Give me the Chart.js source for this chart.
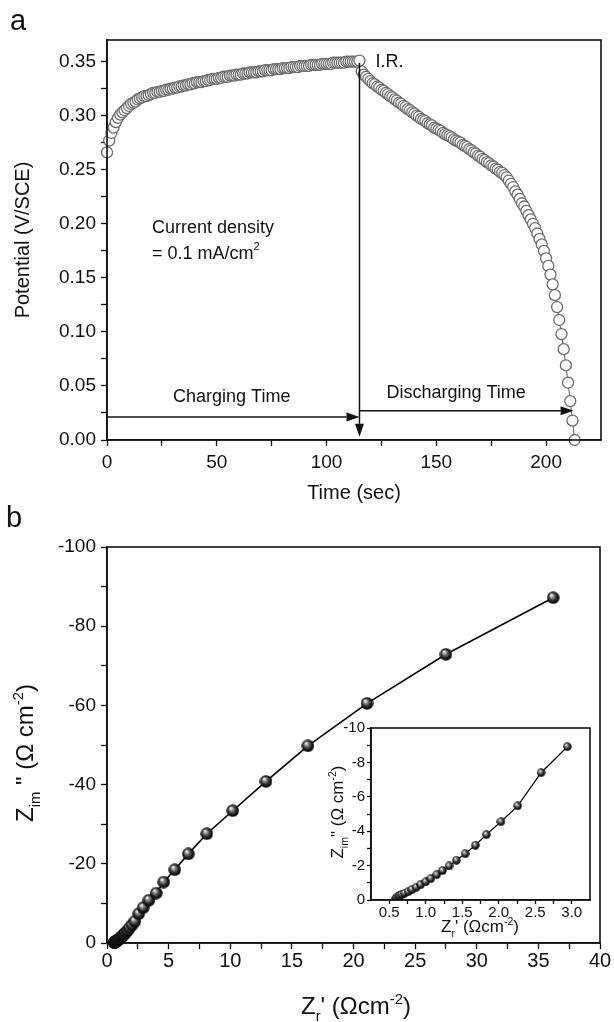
<!DOCTYPE html>
<html>
<head>
<meta charset="utf-8">
<title>Charge-discharge and impedance</title>
<script src="https://cdn.jsdelivr.net/npm/chart.js@4.4.1/dist/chart.umd.min.js"></script>
<style>
  html, body { margin: 0; padding: 0; background: #fff; }
  #page { position: relative; width: 614px; height: 1022px; overflow: hidden; }
  #page canvas { position: absolute; }
  #chartA { left: 0; top: 0; }
  #chartB { left: 0; top: 505px; }
  #chartInset { left: 300px; top: 700px; }
</style>
</head>
<body>
<div id="page">
  <canvas id="chartA" width="614" height="505"></canvas>
  <canvas id="chartB" width="614" height="517"></canvas>
  <canvas id="chartInset" width="300" height="250"></canvas>
</div>
<script>
const FONT = "'Liberation Sans', Arial, Helvetica, sans-serif";
const INK = '#111';

// ---- panel a: charge / discharge curve (time in s, potential in V/SCE) ----
const chargeTime = [
  0, 1, 2, 3, 4, 5, 6, 7, 8, 9, 10, 11, 12, 13, 14, 15, 16, 17, 18, 19,
  20, 21, 22, 23, 24, 25, 26, 27, 28, 29, 30, 31, 32, 33, 34, 35, 36, 37, 38, 39,
  40, 41, 42, 43, 44, 45, 46, 47, 48, 49, 50, 51, 52, 53, 54, 55, 56, 57, 58, 59,
  60, 61, 62, 63, 64, 65, 66, 67, 68, 69, 70, 71, 72, 73, 74, 75, 76, 77, 78, 79,
  80, 81, 82, 83, 84, 85, 86, 87, 88, 89, 90, 91, 92, 93, 94, 95, 96, 97, 98, 99,
  100, 101, 102, 103, 104, 105, 106, 107, 108, 109, 110, 111, 112, 113, 114, 115
];
const chargeV = [
  0.266, 0.277, 0.284, 0.289, 0.294, 0.298, 0.301, 0.303, 0.305, 0.307,
  0.309, 0.311, 0.312, 0.313, 0.315, 0.316, 0.317, 0.318, 0.318, 0.319,
  0.320, 0.321, 0.321, 0.322, 0.322, 0.323, 0.323, 0.324, 0.324, 0.325,
  0.325, 0.326, 0.326, 0.327, 0.327, 0.328, 0.328, 0.329, 0.329, 0.330,
  0.330, 0.331, 0.331, 0.331, 0.332, 0.332, 0.333, 0.333, 0.334, 0.334,
  0.334, 0.335, 0.335, 0.336, 0.336, 0.336, 0.337, 0.337, 0.337, 0.338,
  0.338, 0.338, 0.339, 0.339, 0.339, 0.340, 0.340, 0.340, 0.340, 0.341,
  0.341, 0.341, 0.342, 0.342, 0.342, 0.342, 0.343, 0.343, 0.343, 0.343,
  0.344, 0.344, 0.344, 0.344, 0.345, 0.345, 0.345, 0.345, 0.346, 0.346,
  0.346, 0.346, 0.346, 0.347, 0.347, 0.347, 0.347, 0.347, 0.348, 0.348,
  0.348, 0.348, 0.348, 0.349, 0.349, 0.349, 0.349, 0.349, 0.349, 0.350,
  0.350, 0.350, 0.350, 0.350, 0.350, 0.351
];
const dischargeTime = [
  116, 117, 118, 119, 120, 121, 122, 123, 124, 125, 126, 127, 128, 129, 130, 131, 132, 133, 134, 135,
  136, 137, 138, 139, 140, 141, 142, 143, 144, 145, 146, 147, 148, 149, 150, 151, 152, 153, 154, 155,
  156, 157, 158, 159, 160, 161, 162, 163, 164, 165, 166, 167, 168, 169, 170, 171, 172, 173, 174, 175,
  176, 177, 178, 179, 180, 181, 182, 183, 184, 185, 186, 187, 188, 189, 190, 191, 192, 193, 194, 195,
  196, 197, 198, 199, 200, 201, 202, 203, 204, 205, 206, 207, 208, 209, 210, 211, 212, 213
];
const dischargeV = [
  0.341, 0.338, 0.336, 0.334, 0.332, 0.330, 0.329, 0.327, 0.326, 0.324,
  0.323, 0.321, 0.320, 0.318, 0.317, 0.315, 0.314, 0.312, 0.311, 0.309,
  0.308, 0.306, 0.305, 0.303, 0.302, 0.300, 0.299, 0.297, 0.296, 0.295,
  0.293, 0.292, 0.291, 0.289, 0.288, 0.287, 0.286, 0.284, 0.283, 0.282,
  0.281, 0.280, 0.278, 0.277, 0.276, 0.275, 0.273, 0.272, 0.271, 0.269,
  0.268, 0.266, 0.265, 0.263, 0.262, 0.260, 0.259, 0.257, 0.256, 0.254,
  0.253, 0.251, 0.250, 0.248, 0.247, 0.245, 0.243, 0.240, 0.237, 0.234,
  0.230, 0.227, 0.223, 0.219, 0.216, 0.212, 0.208, 0.204, 0.200, 0.196,
  0.191, 0.186, 0.181, 0.175, 0.168, 0.161, 0.153, 0.144, 0.134, 0.123,
  0.111, 0.098, 0.084, 0.069, 0.053, 0.036, 0.018, 0.000
];
const aXTicks = [0, 25, 50, 75, 100, 125, 150, 175, 200];
const aXLabels = [0, 50, 100, 150, 200];
const aYTicks = [0, 0.025, 0.05, 0.075, 0.1, 0.125, 0.15, 0.175, 0.2, 0.225, 0.25, 0.275, 0.3, 0.325, 0.35];
const aYLabels = [0, 0.05, 0.1, 0.15, 0.2, 0.25, 0.3, 0.35];

// ---- panel b: Nyquist plot (Z' and Z'' in ohm cm^-2) ----
const bZr = [
  0.59, 0.60, 0.62, 0.64, 0.67, 0.71, 0.76, 0.81, 0.87, 0.93, 1.00, 1.07,
  1.15, 1.23, 1.32, 1.42, 1.54, 1.68, 1.83, 2.03, 2.26, 2.58, 2.94,
  3.4, 4.0, 4.6, 5.5, 6.6, 8.1, 10.2, 12.9, 16.3, 21.1, 27.5, 36.2
];
const bZim = [
  -0.08, -0.12, -0.18, -0.24, -0.31, -0.39, -0.48, -0.60, -0.74, -0.89, -1.06, -1.24,
  -1.47, -1.71, -1.98, -2.31, -2.69, -3.18, -3.80, -4.55, -5.47, -7.40, -8.91,
  -10.8, -12.6, -15.4, -18.5, -22.5, -27.6, -33.4, -40.8, -49.8, -60.5, -72.9, -87.2
];
const insetCount = 23; // points shown in the low-impedance inset
const bXTicks = [0, 2.5, 5, 7.5, 10, 12.5, 15, 17.5, 20, 22.5, 25, 27.5, 30, 32.5, 35, 37.5, 40];
const bXLabels = [0, 5, 10, 15, 20, 25, 30, 35, 40];
const bYTicks = [-100, -90, -80, -70, -60, -50, -40, -30, -20, -10, 0];
const bYLabels = [-100, -80, -60, -40, -20, 0];
const inXTicks = [0.5, 0.75, 1, 1.25, 1.5, 1.75, 2, 2.25, 2.5, 2.75, 3];
const inXLabels = [0.5, 1, 1.5, 2, 2.5, 3];
const inYTicks = [-10, -9, -8, -7, -6, -5, -4, -3, -2, -1, 0];
const inYLabels = [-10, -8, -6, -4, -2, 0];

Chart.defaults.font.family = FONT;
Chart.defaults.color = INK;

function zip(xs, ys) {
  return xs.map((x, i) => ({ x, y: ys[i] }));
}

function axis(o) {
  return {
    type: 'linear',
    min: o.min,
    max: o.max,
    reverse: !!o.reverse,
    afterBuildTicks: (s) => { s.ticks = o.ticks.map((v) => ({ value: v })); },
    afterFit: (s) => {
      if (o.width) s.width = o.width;
      if (o.height) s.height = o.height;
    },
    grid: { drawOnChartArea: false, tickLength: o.tick, tickWidth: 1.3, tickColor: INK },
    border: { color: INK, width: 1.6 },
    ticks: {
      autoSkip: false,
      maxRotation: 0,
      padding: o.pad,
      color: INK,
      font: { size: o.size },
      callback: (v) => (o.labels.includes(v) ? o.fmt(v) : '')
    },
    title: o.title || { display: false }
  };
}

function drawRich(ctx, x, y, parts, size, rot, align, baseline) {
  ctx.save();
  ctx.translate(x, y);
  ctx.rotate(rot);
  ctx.textBaseline = baseline;
  ctx.textAlign = 'left';
  ctx.fillStyle = INK;
  const sized = parts.map((p) => {
    const s = size * (p.s || 1);
    ctx.font = s + 'px ' + FONT;
    return { t: p.t, s, dy: (p.dy || 0) * size, w: ctx.measureText(p.t).width };
  });
  const total = sized.reduce((a, p) => a + p.w, 0);
  let cx = align === 'center' ? -total / 2 : 0;
  sized.forEach((p) => {
    ctx.font = p.s + 'px ' + FONT;
    ctx.fillText(p.t, cx, p.dy);
    cx += p.w;
  });
  ctx.restore();
}

function drawArrow(ctx, x1, y1, x2, y2) {
  const ang = Math.atan2(y2 - y1, x2 - x1);
  const L = 13, W = 4.5;
  const bx = x2 - L * Math.cos(ang), by = y2 - L * Math.sin(ang);
  ctx.beginPath();
  ctx.moveTo(x1, y1);
  ctx.lineTo(bx, by);
  ctx.stroke();
  ctx.beginPath();
  ctx.moveTo(x2, y2);
  ctx.lineTo(bx - W * Math.sin(ang), by + W * Math.cos(ang));
  ctx.lineTo(bx + W * Math.sin(ang), by - W * Math.cos(ang));
  ctx.closePath();
  ctx.fill();
}

// box round the plot area, optionally on a white ground (inset)
function framePlugin(fill) {
  return {
    id: 'frame',
    beforeDraw(chart) {
      if (!fill) return;
      const a = chart.chartArea;
      chart.ctx.save();
      chart.ctx.fillStyle = '#fff';
      chart.ctx.fillRect(a.left, a.top, a.right - a.left, a.bottom - a.top);
      chart.ctx.restore();
    },
    afterDraw(chart) {
      const a = chart.chartArea;
      const ctx = chart.ctx;
      ctx.save();
      ctx.strokeStyle = INK;
      ctx.lineWidth = 1.6;
      ctx.strokeRect(a.left, a.top, a.right - a.left, a.bottom - a.top);
      ctx.restore();
    }
  };
}

// arrows and notes in data units, labels in canvas pixels
function annotator(cfg) {
  return {
    id: 'annotate',
    afterDraw(chart) {
      const ctx = chart.ctx;
      const xs = chart.scales.x, ys = chart.scales.y;
      const px = (p) => [xs.getPixelForValue(p[0]), ys.getPixelForValue(p[1])];
      ctx.save();
      ctx.strokeStyle = INK;
      ctx.fillStyle = INK;
      ctx.lineWidth = 1.5;
      (cfg.arrows || []).forEach((a) => {
        const [x1, y1] = px(a.from), [x2, y2] = px(a.to);
        drawArrow(ctx, x1, y1, x2, y2);
      });
      (cfg.notes || []).forEach((n) => {
        const [x, y] = px(n.at);
        drawRich(ctx, x, y, n.parts, n.size, 0, n.align, 'middle');
      });
      (cfg.labels || []).forEach((l) => {
        drawRich(ctx, l.x, l.y, l.parts, l.size, l.rot || 0, l.align || 'center', 'alphabetic');
      });
      ctx.restore();
    }
  };
}

function sphere(d) {
  const c = document.createElement('canvas');
  c.width = c.height = d;
  const g = c.getContext('2d');
  const r = d / 2;
  const grad = g.createRadialGradient(r * 0.7, r * 0.6, r * 0.05, r, r, r);
  grad.addColorStop(0, '#ffffff');
  grad.addColorStop(0.28, '#8a8a8a');
  grad.addColorStop(0.65, '#222');
  grad.addColorStop(1, '#000');
  g.fillStyle = grad;
  g.beginPath();
  g.arc(r, r, r - 0.3, 0, Math.PI * 2);
  g.fill();
  return c;
}

const openCircle = {
  showLine: true,
  borderColor: '#333',
  borderWidth: 0.8,
  pointRadius: 5.5,
  pointBorderWidth: 1.3,
  pointBorderColor: '#6c6c6c',
  pointBackgroundColor: '#fff',
  clip: false
};

const sup = (t) => ({ t, s: 0.62, dy: -0.4 });
const sub = (t) => ({ t, s: 0.62, dy: 0.3 });

new Chart(document.getElementById('chartA'), {
  type: 'scatter',
  data: {
    datasets: [
      { data: zip(chargeTime, chargeV), ...openCircle },
      { data: zip(dischargeTime, dischargeV), ...openCircle }
    ]
  },
  options: {
    responsive: false,
    animation: false,
    devicePixelRatio: 1,
    layout: { padding: { left: 0, right: 13, top: 40, bottom: 0 } },
    plugins: { legend: { display: false }, tooltip: { enabled: false } },
    scales: {
      x: axis({
        min: 0, max: 225, ticks: aXTicks, labels: aXLabels, fmt: (v) => String(v),
        size: 19, tick: 6, pad: 5, height: 65,
        title: { display: true, text: 'Time (sec)', font: { size: 20 }, color: INK, padding: { top: 0, bottom: 0 } }
      }),
      y: axis({
        min: 0, max: 0.37, ticks: aYTicks, labels: aYLabels, fmt: (v) => v.toFixed(2),
        size: 19, tick: 6, pad: 5, width: 107,
        title: { display: true, text: 'Potential (V/SCE)', font: { size: 20 }, color: INK, padding: { top: 11, bottom: 0 } }
      })
    }
  },
  plugins: [
    framePlugin(false),
    annotator({
      arrows: [
        { from: [0, 0.0213], to: [115, 0.0213] },
        { from: [115, 0.027], to: [212.5, 0.027] },
        { from: [115, 0.349], to: [115, 0.003] }
      ],
      notes: [
        { at: [122.3, 0.350], parts: [{ t: 'I.R.' }], size: 18, align: 'left' },
        { at: [20.5, 0.196], parts: [{ t: 'Current density' }], size: 18, align: 'left' },
        { at: [20.5, 0.172], parts: [{ t: '= 0.1 mA/cm' }, sup('2')], size: 18, align: 'left' },
        { at: [56.8, 0.040], parts: [{ t: 'Charging Time' }], size: 18, align: 'center' },
        { at: [159, 0.0435], parts: [{ t: 'Discharging Time' }], size: 18, align: 'center' }
      ],
      labels: [{ x: 10, y: 30, parts: [{ t: 'a' }], size: 29, align: 'left' }]
    })
  ]
});

new Chart(document.getElementById('chartB'), {
  type: 'scatter',
  data: {
    datasets: [{
      data: zip(bZr, bZim),
      showLine: true,
      borderColor: '#000',
      borderWidth: 1.6,
      pointStyle: sphere(13),
      pointRadius: 6.5,
      clip: false
    }]
  },
  options: {
    responsive: false,
    animation: false,
    devicePixelRatio: 1,
    layout: { padding: { left: 0, right: 14, top: 42, bottom: 0 } },
    plugins: { legend: { display: false }, tooltip: { enabled: false } },
    scales: {
      x: axis({
        min: 0, max: 40, ticks: bXTicks, labels: bXLabels, fmt: (v) => String(v),
        size: 20, tick: 6, pad: 0, height: 79
      }),
      y: axis({
        min: -100, max: 0, reverse: true, ticks: bYTicks, labels: bYLabels, fmt: (v) => String(v),
        size: 19, tick: 6, pad: 5, width: 107
      })
    }
  },
  plugins: [
    framePlugin(false),
    annotator({
      labels: [
        { x: 6, y: 22, parts: [{ t: 'b' }], size: 29, align: 'left' },
        { x: 356, y: 509, parts: [{ t: 'Z' }, sub('r'), { t: "' (Ωcm" }, sup('-2'), { t: ')' }], size: 24 },
        { x: 33, y: 248, rot: -Math.PI / 2, parts: [{ t: 'Z' }, sub('im'), { t: ' " (Ω cm' }, sup('-2'), { t: ')' }], size: 24 }
      ]
    })
  ]
});

new Chart(document.getElementById('chartInset'), {
  type: 'scatter',
  data: {
    datasets: [{
      data: zip(bZr.slice(0, insetCount), bZim.slice(0, insetCount)),
      showLine: true,
      borderColor: '#000',
      borderWidth: 1.2,
      pointStyle: sphere(9),
      pointRadius: 4.5
    }]
  },
  options: {
    responsive: false,
    animation: false,
    devicePixelRatio: 1,
    layout: { padding: { left: 0, right: 10, top: 28, bottom: 0 } },
    plugins: { legend: { display: false }, tooltip: { enabled: false } },
    scales: {
      x: axis({
        min: 0.25, max: 3.25, ticks: inXTicks, labels: inXLabels, fmt: (v) => v.toFixed(1),
        size: 15, tick: 4, pad: 0, height: 50
      }),
      y: axis({
        min: -10, max: 0, reverse: true, ticks: inYTicks, labels: inYLabels, fmt: (v) => String(v),
        size: 15, tick: 4, pad: 2, width: 71
      })
    }
  },
  plugins: [
    framePlugin(true),
    annotator({
      labels: [
        { x: 180, y: 232, parts: [{ t: 'Z' }, sub('r'), { t: "' (Ωcm" }, sup('-2'), { t: ')' }], size: 17 },
        { x: 43, y: 112, rot: -Math.PI / 2, parts: [{ t: 'Z' }, sub('im'), { t: '" (Ω cm' }, sup('-2'), { t: ')' }], size: 17 }
      ]
    })
  ]
});
</script>
</body>
</html>
